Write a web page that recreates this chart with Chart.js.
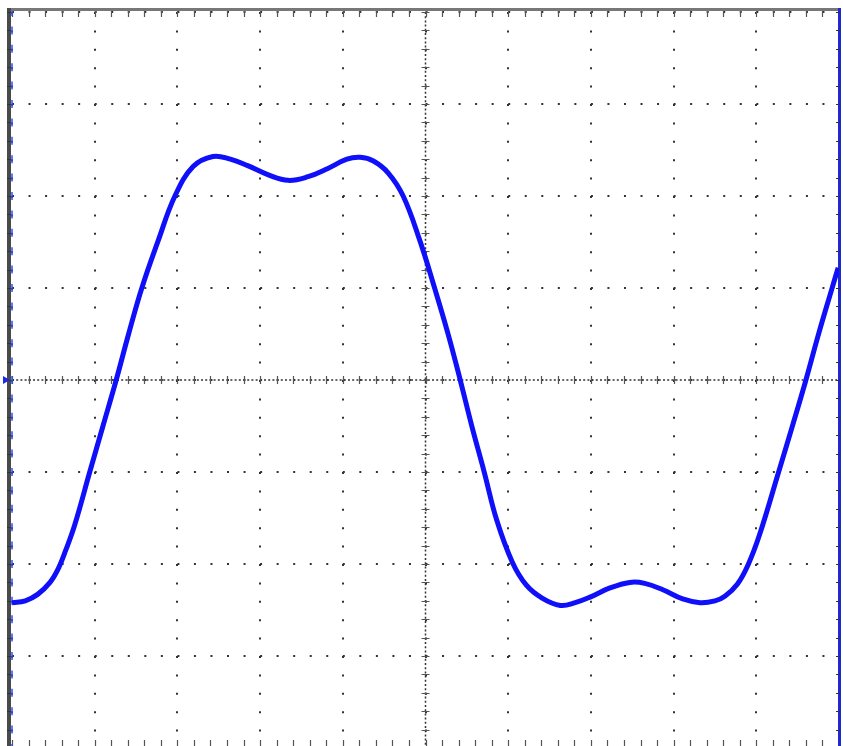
<!DOCTYPE html>
<html>
<head>
<meta charset="utf-8">
<script src="https://cdn.jsdelivr.net/npm/chart.js@4/dist/chart.umd.min.js"></script>
<style>
  html, body { margin: 0; padding: 0; background: #fff; }
  canvas { display: block; }
</style>
</head>
<body>
<canvas id="scope" width="843" height="746"></canvas>
<script>
// screen divisions (10 across, 8 down, bottom row slightly cut off)
const xDivs = [0, 1, 2, 3, 4, 5, 6, 7, 8, 9, 10];
const yDivs = [-3, -2, -1, 0, 1, 2, 3, 4];

// trace in divisions
const traceX = [0.00, 0.16, 0.31, 0.46, 0.56, 0.65, 0.76, 0.94, 1.10, 1.26,
  1.41, 1.57, 1.77, 1.97, 2.19, 2.43, 2.64, 2.85, 3.10, 3.34,
  3.58, 3.82, 4.05, 4.21, 4.37, 4.55, 4.73, 4.93, 5.11, 5.27,
  5.42, 5.56, 5.71, 5.86, 6.05, 6.22, 6.41, 6.63, 6.81, 6.99,
  7.23, 7.47, 7.65, 7.87, 8.11, 8.32, 8.50, 8.62, 8.77, 8.90,
  9.04, 9.27, 9.44, 9.60, 9.75, 9.91, 9.99];
const traceY = [-2.42, -2.40, -2.33, -2.20, -2.05, -1.85, -1.57, -1.00, -0.50, 0.00,
  0.50, 1.00, 1.52, 2.00, 2.32, 2.43, 2.40, 2.33, 2.23, 2.17,
  2.21, 2.30, 2.40, 2.42, 2.38, 2.25, 2.00, 1.52, 1.00, 0.51,
  0.00, -0.50, -1.00, -1.52, -1.98, -2.23, -2.37, -2.45, -2.42, -2.36,
  -2.26, -2.20, -2.21, -2.28, -2.38, -2.42, -2.40, -2.35, -2.22, -2.01,
  -1.68, -1.00, -0.49, 0.00, 0.49, 0.98, 1.22];

const points = traceX.map((v, i) => ({ x: v, y: traceY[i] }));

// scope graticule: centre cross with minor ticks, frame, edge ticks
const graticule = {
  id: 'graticule',
  beforeDatasetsDraw(chart) {
    const { ctx, chartArea: a, scales: { x, y } } = chart;
    const cx = x.getPixelForValue(5);
    const cy = y.getPixelForValue(0);
    const bottom = chart.height;
    ctx.save();

    // centre lines, dense dots
    ctx.strokeStyle = '#333';
    ctx.lineWidth = 1.5;
    ctx.setLineDash([2, 2.2]);
    ctx.beginPath();
    ctx.moveTo(a.left, cy); ctx.lineTo(a.right, cy);
    ctx.moveTo(cx, a.top); ctx.lineTo(cx, a.bottom);
    ctx.stroke();
    ctx.setLineDash([]);

    // minor ticks every 1/5 division
    ctx.strokeStyle = '#555';
    ctx.lineWidth = 1.2;
    ctx.beginPath();
    for (let i = 0; i <= 50; i++) {
      const px = Math.round(x.getPixelForValue(i / 5)) + 0.5;
      ctx.moveTo(px, cy - 4); ctx.lineTo(px, cy + 4);
      ctx.moveTo(px, a.top - 2); ctx.lineTo(px, a.top + 5);
      ctx.moveTo(px, bottom); ctx.lineTo(px, bottom - 6);
    }
    for (let i = -20; i <= 20; i++) {
      const py = Math.round(y.getPixelForValue(i / 5)) + 0.5;
      ctx.moveTo(cx - 4, py); ctx.lineTo(cx + 4, py);
    }
    ctx.stroke();

    // left edge blue marks
    ctx.strokeStyle = 'rgba(40, 80, 255, 0.75)';
    ctx.lineWidth = 2;
    ctx.beginPath();
    for (let i = -20; i <= 20; i++) {
      const py = y.getPixelForValue(i / 5);
      ctx.moveTo(a.left, py - 4); ctx.lineTo(a.left, py + 4);
    }
    ctx.stroke();

    // frame
    ctx.strokeStyle = '#777';
    ctx.lineWidth = 3;
    ctx.beginPath();
    ctx.moveTo(7, 9.5); ctx.lineTo(841, 9.5);
    ctx.stroke();
    ctx.strokeStyle = '#4a4a4a';
    ctx.lineWidth = 4;
    ctx.beginPath();
    ctx.moveTo(9, 8); ctx.lineTo(9, bottom);
    ctx.stroke();
    ctx.strokeStyle = 'rgb(30, 40, 215)';
    ctx.lineWidth = 3;
    ctx.beginPath();
    ctx.moveTo(a.right + 0.5, 8); ctx.lineTo(a.right + 0.5, bottom);
    ctx.stroke();
    ctx.strokeStyle = '#333';
    ctx.lineWidth = 1.2;
    ctx.beginPath();
    for (let i = -20; i <= 20; i++) {
      const py = Math.round(y.getPixelForValue(i / 5)) + 0.5;
      ctx.moveTo(a.right - 3, py); ctx.lineTo(a.right + 2, py);
      ctx.moveTo(7, py); ctx.lineTo(11, py);
    }
    ctx.stroke();

    // ground level marker
    ctx.fillStyle = 'rgb(30, 40, 230)';
    ctx.beginPath();
    ctx.moveTo(3, cy - 4); ctx.lineTo(10, cy); ctx.lineTo(3, cy + 4);
    ctx.closePath();
    ctx.fill();

    ctx.restore();
  }
};

const ctx = document.getElementById('scope').getContext('2d');

const scopeChart = new Chart(ctx, {
  type: 'line',
  data: {
    datasets: [
      {
        data: points,
        borderColor: 'rgb(15, 15, 250)',
        borderWidth: 5,
        pointRadius: 0,
        fill: false,
        tension: 0.4
      }
    ]
  },
  options: {
    responsive: false,
    animation: false,
    layout: { padding: { left: 12, right: 4, top: 12, bottom: 0 } },
    plugins: {
      legend: { display: false },
      tooltip: { enabled: false }
    },
    scales: {
      x: {
        type: 'linear',
        min: 0,
        max: 10,
        afterBuildTicks: (axis) => { axis.ticks = xDivs.map(v => ({ value: v })); },
        ticks: { display: false },
        grid: { color: '#333', lineWidth: 2, drawTicks: false },
        border: { display: false, dash: [2, 16.4] }
      },
      y: {
        min: -3.978,
        max: 4,
        afterBuildTicks: (axis) => { axis.ticks = yDivs.map(v => ({ value: v })); },
        ticks: { display: false },
        grid: { color: '#333', lineWidth: 2, drawTicks: false },
        border: { display: false, dash: [2, 14.54] }
      }
    }
  },
  plugins: [graticule]
});
</script>
</body>
</html>
